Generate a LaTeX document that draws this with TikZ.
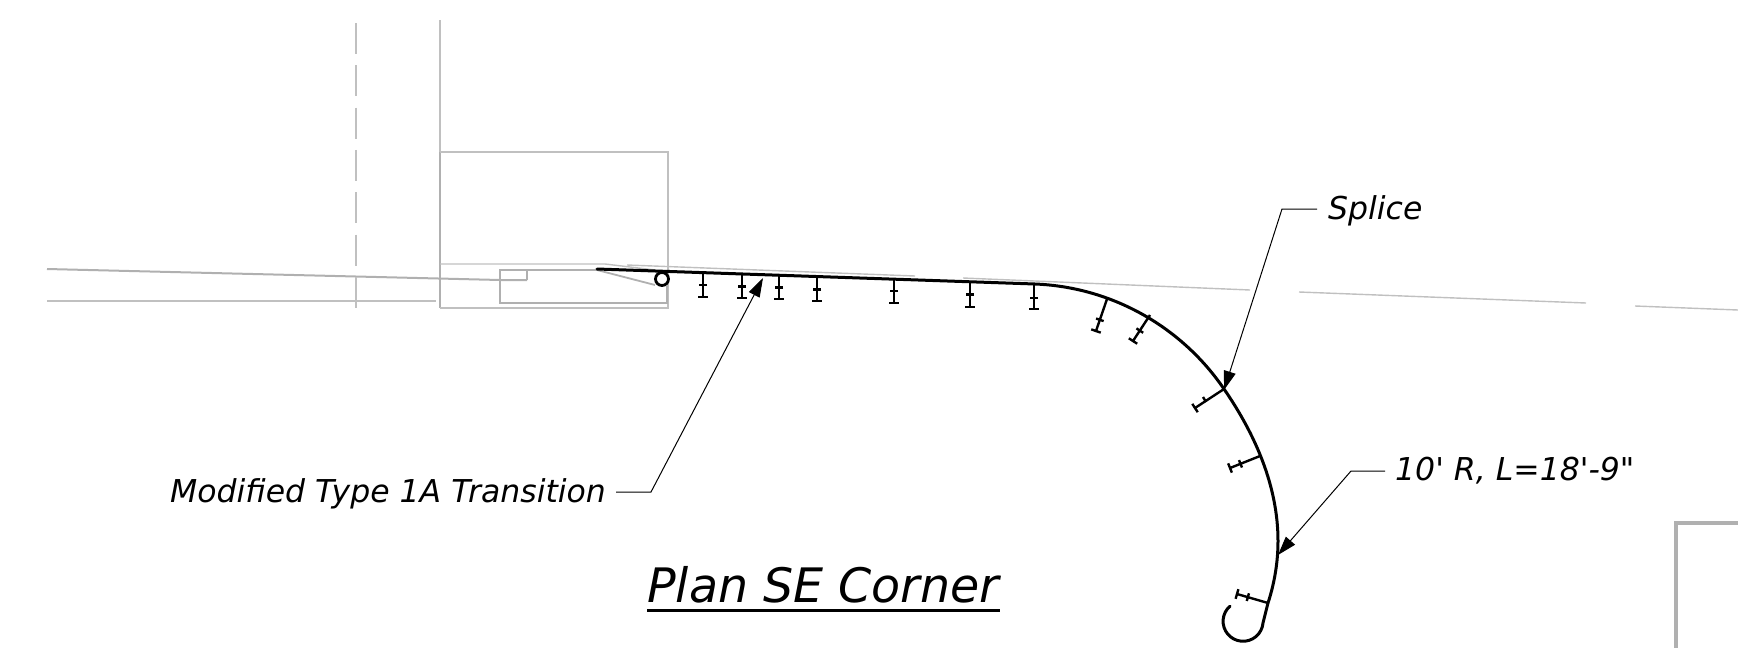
\documentclass[tikz,border=0pt]{standalone}
\usepackage{fontspec}
\setmainfont{DejaVu Sans}
\usetikzlibrary{calc,arrows.meta}
\definecolor{linegray}{HTML}{C0C0C0}
\definecolor{darkgray}{HTML}{B0B0B0}
\tikzset{
    existing/.style={draw=linegray, line width=1.4pt},
    rail/.style={draw=black, line width=3pt, line cap=round},
    post/.style={draw=black, line width=2.4pt},
    leader/.style={draw=black, line width=1pt, -{Triangle[length=19pt,width=12pt]}},
    callout/.style={font=\itshape\fontsize{31.5}{38}\selectfont, inner sep=0pt},
    heading/.style={font=\itshape\fontsize{47.5}{56}\selectfont, inner sep=0pt}
}
\begin{document}
\begin{tikzpicture}[x=1pt,y=-1pt]
    \useasboundingbox (0,0) rectangle (1738,648);
    % Existing work
    \draw [existing] (440,20) -- (440,152);
    \draw [existing, draw=darkgray] (440,152) -- (440,308);
    \draw [existing] (440,308) -- (668,308) -- (668,152) -- (440,152);
    \draw [existing] (440,264) -- (605,264) -- (655,270);
    \draw [existing, draw=darkgray] (597,270) -- (500,270) -- (500,303) -- (667,303) -- (667,286);
    \draw [existing, draw=darkgray, line width=1.8pt] (597,270) -- (655,285);
    \draw [existing, draw=darkgray] (500,270) -- (527,270) -- (527,280);
    \draw [existing, draw=darkgray, line width=2pt] (47,269) -- (500,280) -- (527,280);
    \draw [existing] (47,301) -- (436,301);
    \draw [existing, line width=1.8pt, dash pattern=on 31pt off 11.3pt] (356,23) -- (356,308);
    \draw [existing] (627,265) -- (915,276);
    \draw [existing] (963,278) -- (1250,290);
    \draw [existing] (1299,292) -- (1586,303);
    \draw [existing] (1635,306) -- (1738,310);
    \draw [existing, draw=darkgray, line width=4pt] (1738,523) -- (1676,523) -- (1676,648);

    % Guardrail run
    \draw [rail] (597,269) -- (1035,284)
        .. controls (1111,287) and (1181,326) .. (1224,389)
        .. controls (1255,434) and (1278,486) .. (1278,541)
        .. controls (1278,562) and (1274.5,583) .. (1268,603)
        -- (1263,623) arc [start angle=5, end angle=229, radius=20];
    \draw [draw=black, line width=2.8pt] (662,279) circle (6.5);

    % Posts
    \foreach \xa/\ya/\xb/\yb/\f in {
        703/273/703/297/0.5, 742/275/742/298/0.5, 779/276/779/299/0.5, 817/278/817/301/0.5,
        894/279/894/303/0.5, 970/282/970/307/0.5, 1034/284/1034/309/0.55,
        1107/299/1096/331/0.65, 1150/315/1133/341/0.6, 1260/456/1230/468/0.65, 1268/603/1237/594/0.65} {
        \coordinate (top) at (\xa,\ya);
        \coordinate (end) at (\xb,\yb);
        \coordinate (mid) at ($(top)!\f!(end)$);
        \draw [post] (top) -- (end);
        \draw [post] ($(end)!5pt!90:(top)$) -- ($(end)!5pt!-90:(top)$);
        \draw [post] ($(mid)!4pt!90:(end)$) -- ($(mid)!4pt!-90:(end)$);
    }
    \coordinate (spliceTop) at (1224,389);
    \coordinate (spliceEnd) at (1195,408);
    \draw [post] (spliceTop) -- (spliceEnd);
    \draw [post] ($(spliceEnd)!5pt!90:(spliceTop)$) -- ($(spliceEnd)!5pt!-90:(spliceTop)$);
    \draw [post] (1206,402) -- (1203,397);

    % Callouts
    \coordinate (transitionTip) at (763,278);
    \coordinate (spliceTip) at (1224,390);
    \coordinate (radiusTip) at (1278,555);
    \node [callout, anchor=east] (transition) at (606,494) {Modified Type 1A Transition};
    \node [callout, anchor=west] (splice) at (1328,211) {Splice};
    \node [callout, anchor=west] (radius) at (1395,471) {10\textquotesingle{} R, L=18\textquotesingle{}-9\textquotedbl};
    \draw [leader] (616,492) -- (651,492) -- (transitionTip);
    \draw [leader] (1317,209) -- (1282,209) -- (spliceTip);
    \draw [leader] (1385,471) -- (1351,471) -- (radiusTip);

    % Title
    \node [heading, anchor=base west] (title) at (647,602) {Plan SE Corner};
    \draw [draw=black, line width=3pt] (title.base west |- 0,610) -- (1000,610);
\end{tikzpicture}
\end{document}
